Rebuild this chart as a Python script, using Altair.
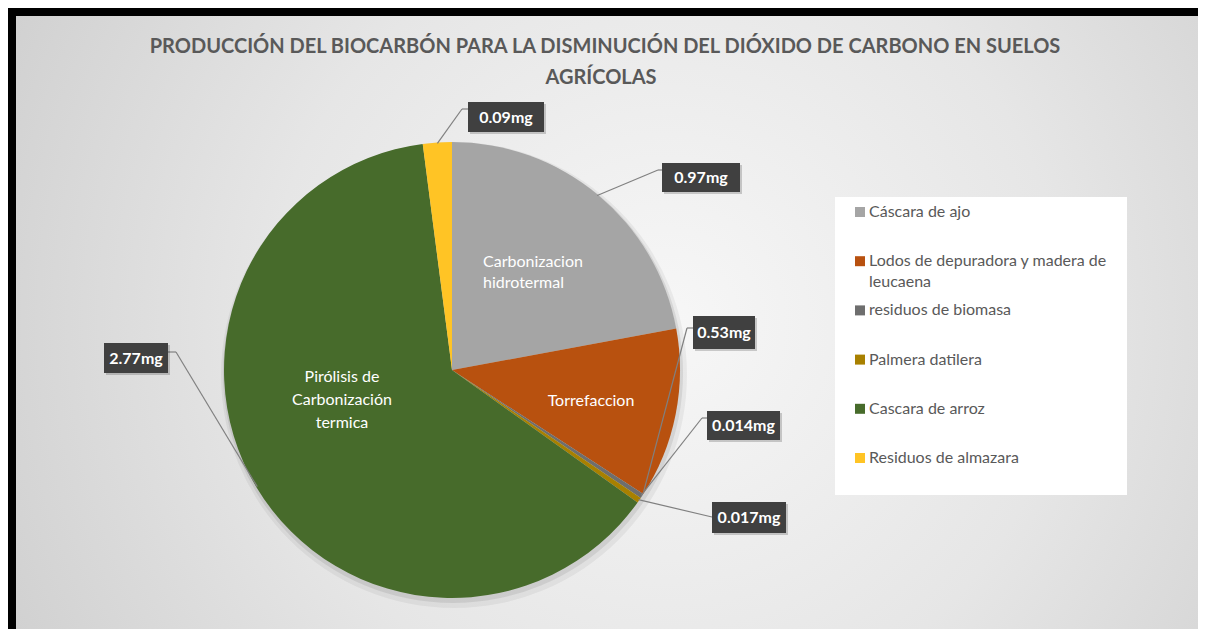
import altair as alt
import pandas as pd
import numpy as np

# ---------------- data ----------------
categories = [
    "Cáscara de ajo",
    "Lodos de depuradora y madera de leucaena",
    " residuos de biomasa",
    "Palmera datilera",
    "Cascara de arroz",
    "Residuos de almazara",
]
values = [0.97, 0.53, 0.014, 0.017, 2.77, 0.09]
value_labels = ["0.97mg", "0.53mg", "0.014mg", "0.017mg", "2.77mg", "0.09mg"]
colors = ["#A5A5A5", "#B8510F", "#6E6E6E", "#A88000", "#476B2B", "#FFC425"]
legend_lines = [
    ["Cáscara de ajo"],
    ["Lodos de depuradora y madera de", "leucaena"],
    ["\u00a0residuos de biomasa"],
    ["Palmera datilera"],
    ["Cascara de arroz"],
    ["Residuos de almazara"],
]
slice_names = [
    ["Carbonizacion", "hidrotermal"],
    ["Torrefaccion"],
    [],
    [],
    ["Pirólisis de", "Carbonización", "termica"],
    [],
]
title_lines = [
    "PRODUCCIÓN DEL BIOCARBÓN PARA LA DISMINUCIÓN DEL DIÓXIDO DE CARBONO EN SUELOS",
    "AGRÍCOLAS",
]

# ---------------- layout (page pixels) ----------------
OFF = 8
W, H = 1190, 621
CX, CY, R = 452, 370, 228
FONT = "Lato"

boxes = [
    (662, 163, 740, 192),
    (693, 316, 755, 349),
    (707, 411, 780, 440),
    (712, 502, 786, 533),
    (104, 343, 168, 373),
    (468, 102, 544, 132),
]
knees = [(658, 170), (687, 328), (702, 418), (712, 517), (176, 352), (462, 109)]
box_attach = [(662, 170), (693, 328), (707, 418), (712, 517), (168, 352), (468, 109)]
anchor_mode = ["mid", "end", "mid", "mid", "mid", "mid"]

slice_text_pos = [
    [(483, 262, "left"), (483, 283, "left")],
    [(591, 401, "center")],
    [],
    [],
    [(342, 377, "center"), (342, 400, "center"), (342, 423, "center")],
    [],
]

legend_x_sw, legend_x_txt = 860, 869
legend_y0, legend_dy, legend_lh = 212, 49.2, 21

# ---------------- tables ----------------
df = pd.DataFrame({"cat": categories, "val": values, "idx": list(range(len(values)))})

total = float(np.sum(values))
cum = np.concatenate([[0.0], np.cumsum(values)])
a_start = cum[:-1] / total * 2 * np.pi
a_end = cum[1:] / total * 2 * np.pi
a_mid = (a_start + a_end) / 2

segs = []
for i in range(len(values)):
    a = a_mid[i] if anchor_mode[i] == "mid" else a_end[i] - 0.01
    ex = CX + (R - 1) * np.sin(a)
    ey = CY - (R - 1) * np.cos(a)
    kx, ky = knees[i]
    bx, by = box_attach[i]
    segs.append({"x": ex - OFF, "y": ey - OFF, "x2": kx - OFF, "y2": ky - OFF})
    segs.append({"x": kx - OFF, "y": ky - OFF, "x2": bx - OFF, "y2": by - OFF})
seg_df = pd.DataFrame(segs)

box_df = pd.DataFrame({
    "x": [b[0] - OFF for b in boxes],
    "y": [b[1] - OFF for b in boxes],
    "x2": [b[2] - OFF for b in boxes],
    "y2": [b[3] - OFF for b in boxes],
    "cx": [(b[0] + b[2]) / 2 - OFF for b in boxes],
    "cy": [(b[1] + b[3]) / 2 - OFF + 0.5 for b in boxes],
    "label": value_labels,
})
shadow_df = box_df.assign(x=box_df.x + 2, x2=box_df.x2 + 2, y=box_df.y + 2, y2=box_df.y2 + 2)

inner_rows = []
for i, lines in enumerate(slice_names):
    for t, (px, py, al) in zip(lines, slice_text_pos[i]):
        inner_rows.append({"t": t, "x": px - OFF, "y": py - OFF, "al": al})
inner_df = pd.DataFrame(inner_rows)
inner_left = inner_df[inner_df.al == "left"]
inner_center = inner_df[inner_df.al == "center"]

leg_sw = pd.DataFrame({
    "cat": categories,
    "x": [legend_x_sw - OFF] * len(categories),
    "y": [legend_y0 + legend_dy * i - OFF for i in range(len(categories))],
})
leg_txt_rows = []
for i, lines in enumerate(legend_lines):
    for j, t in enumerate(lines):
        leg_txt_rows.append({"t": t, "x": legend_x_txt - OFF,
                             "y": legend_y0 + legend_dy * i + legend_lh * j - OFF})
leg_txt = pd.DataFrame(leg_txt_rows)

title_df = pd.DataFrame({"t": title_lines, "x": [605 - OFF, 601 - OFF], "y": [47 - OFF, 78 - OFF]})

one = pd.DataFrame({"a": [0]})

def X(f):
    return alt.X(f, type="quantitative", scale=None, axis=None)

def Y(f):
    return alt.Y(f, type="quantitative", scale=None, axis=None)

# ---------------- layers ----------------
grad = alt.Gradient(
    gradient="radial",
    stops=[
        alt.GradientStop(color="#F7F7F7", offset=0),
        alt.GradientStop(color="#E6E6E6", offset=0.45),
        alt.GradientStop(color="#C6C6C6", offset=1),
    ],
    x1=0.55, y1=0.5, r1=0, x2=0.55, y2=0.5, r2=0.75,
)
bg = alt.Chart(one).mark_rect(fill=grad).encode(
    x=alt.value(16 - OFF), x2=alt.value(W),
    y=alt.value(16 - OFF), y2=alt.value(H),
)

shadow1 = alt.Chart(one).mark_arc(outerRadius=R + 5, fill="#000000", opacity=0.05).encode(
    theta=alt.value(6.2832), x=alt.value(CX - OFF + 2), y=alt.value(CY - OFF + 5))
shadow2 = alt.Chart(one).mark_arc(outerRadius=R + 2, fill="#000000", opacity=0.08).encode(
    theta=alt.value(6.2832), x=alt.value(CX - OFF + 1), y=alt.value(CY - OFF + 3))

pie = alt.Chart(df).mark_arc(outerRadius=R).encode(
    theta=alt.Theta("val:Q", stack=True),
    color=alt.Color("cat:N", scale=alt.Scale(domain=categories, range=colors), legend=None),
    order=alt.Order("idx:Q"),
    x=alt.value(CX - OFF), y=alt.value(CY - OFF),
)

inner_l = alt.Chart(inner_left).mark_text(
    font=FONT, fontSize=16, color="#FFFFFF", align="left", baseline="middle"
).encode(x=X("x"), y=Y("y"), text="t:N")
inner_c = alt.Chart(inner_center).mark_text(
    font=FONT, fontSize=16, color="#FFFFFF", align="center", baseline="middle"
).encode(x=X("x"), y=Y("y"), text="t:N")

leaders = alt.Chart(seg_df).mark_rule(color="#808080", strokeWidth=1.2).encode(
    x=X("x"), y=Y("y"), x2="x2:Q", y2="y2:Q")

box_sh = alt.Chart(shadow_df).mark_rect(fill="#000000", opacity=0.18).encode(
    x=X("x"), y=Y("y"), x2="x2:Q", y2="y2:Q")
box = alt.Chart(box_df).mark_rect(fill="#404040").encode(
    x=X("x"), y=Y("y"), x2="x2:Q", y2="y2:Q")
box_txt = alt.Chart(box_df).mark_text(
    font=FONT, fontSize=16, fontWeight="bold", color="#FFFFFF", align="center", baseline="middle"
).encode(x=X("cx"), y=Y("cy"), text="label:N")

legend_box = alt.Chart(one).mark_rect(fill="#FFFFFF").encode(
    x=alt.value(835 - OFF), x2=alt.value(1127 - OFF),
    y=alt.value(197 - OFF), y2=alt.value(495 - OFF),
)
legend_sw = alt.Chart(leg_sw).mark_square(size=100, opacity=1).encode(
    x=X("x"), y=Y("y"),
    color=alt.Color("cat:N", scale=alt.Scale(domain=categories, range=colors), legend=None),
)
legend_tx = alt.Chart(leg_txt).mark_text(
    font=FONT, fontSize=16, color="#595959", align="left", baseline="middle"
).encode(x=X("x"), y=Y("y"), text="t:N")

title = alt.Chart(title_df).mark_text(
    font=FONT, fontSize=20, fontWeight="bold", color="#595959", align="center", baseline="middle"
).encode(x=X("x"), y=Y("y"), text="t:N")

chart = alt.layer(
    bg, shadow1, shadow2, pie, inner_l, inner_c, leaders, box_sh, box, box_txt,
    legend_box, legend_sw, legend_tx, title,
).properties(
    width=W, height=H, padding=0, autosize=alt.AutoSizeParams(type="none"),
    background="#000000",
).configure_view(strokeWidth=0)

chart.save("out.html", embed_options={"renderer": "svg", "actions": False})
